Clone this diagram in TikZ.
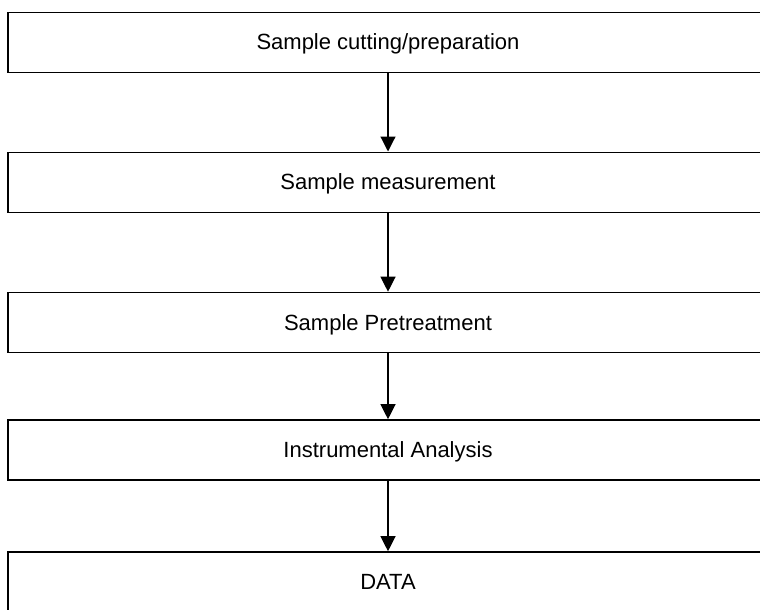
\documentclass[tikz,border=0pt]{standalone}
\usepackage{fontspec}
\setmainfont{Liberation Sans}
\usetikzlibrary{arrows.meta}

\tikzset{
  stepbox/.style={draw, line width=1.6pt, rectangle, minimum width=760pt, minimum height=60pt,
    inner sep=0pt, text height=15pt, text depth=0pt, font=\fontsize{22}{26}\selectfont},
  flow/.style={line width=1.2pt, -{Triangle[length=15pt, width=15pt]}}
}

\begin{document}
\begin{tikzpicture}[x=1pt, y=-1pt]
		%%%%% START %%%%%
		
		\useasboundingbox (0, 0) rectangle (760, 610);
		
		\node[stepbox] (cut) at (388, 42.5) {Sample cutting/preparation};
		\node[stepbox] (meas) at (388, 182.3) {Sample measurement};
		\node[stepbox] (pre) at (388, 322.5) {Sample Pretreatment};
		\node[stepbox] (inst) at (388, 450) {Instrumental Analysis};
		\node[stepbox] (data) at (388, 582) {DATA};
		
		\draw[flow] (cut) -- (meas);
		\draw[flow] (meas) -- (pre);
		\draw[flow] (pre) -- (inst);
		\draw[flow] (inst) -- (data);
		
		%%%%% END %%%%%
\end{tikzpicture}
\end{document}
